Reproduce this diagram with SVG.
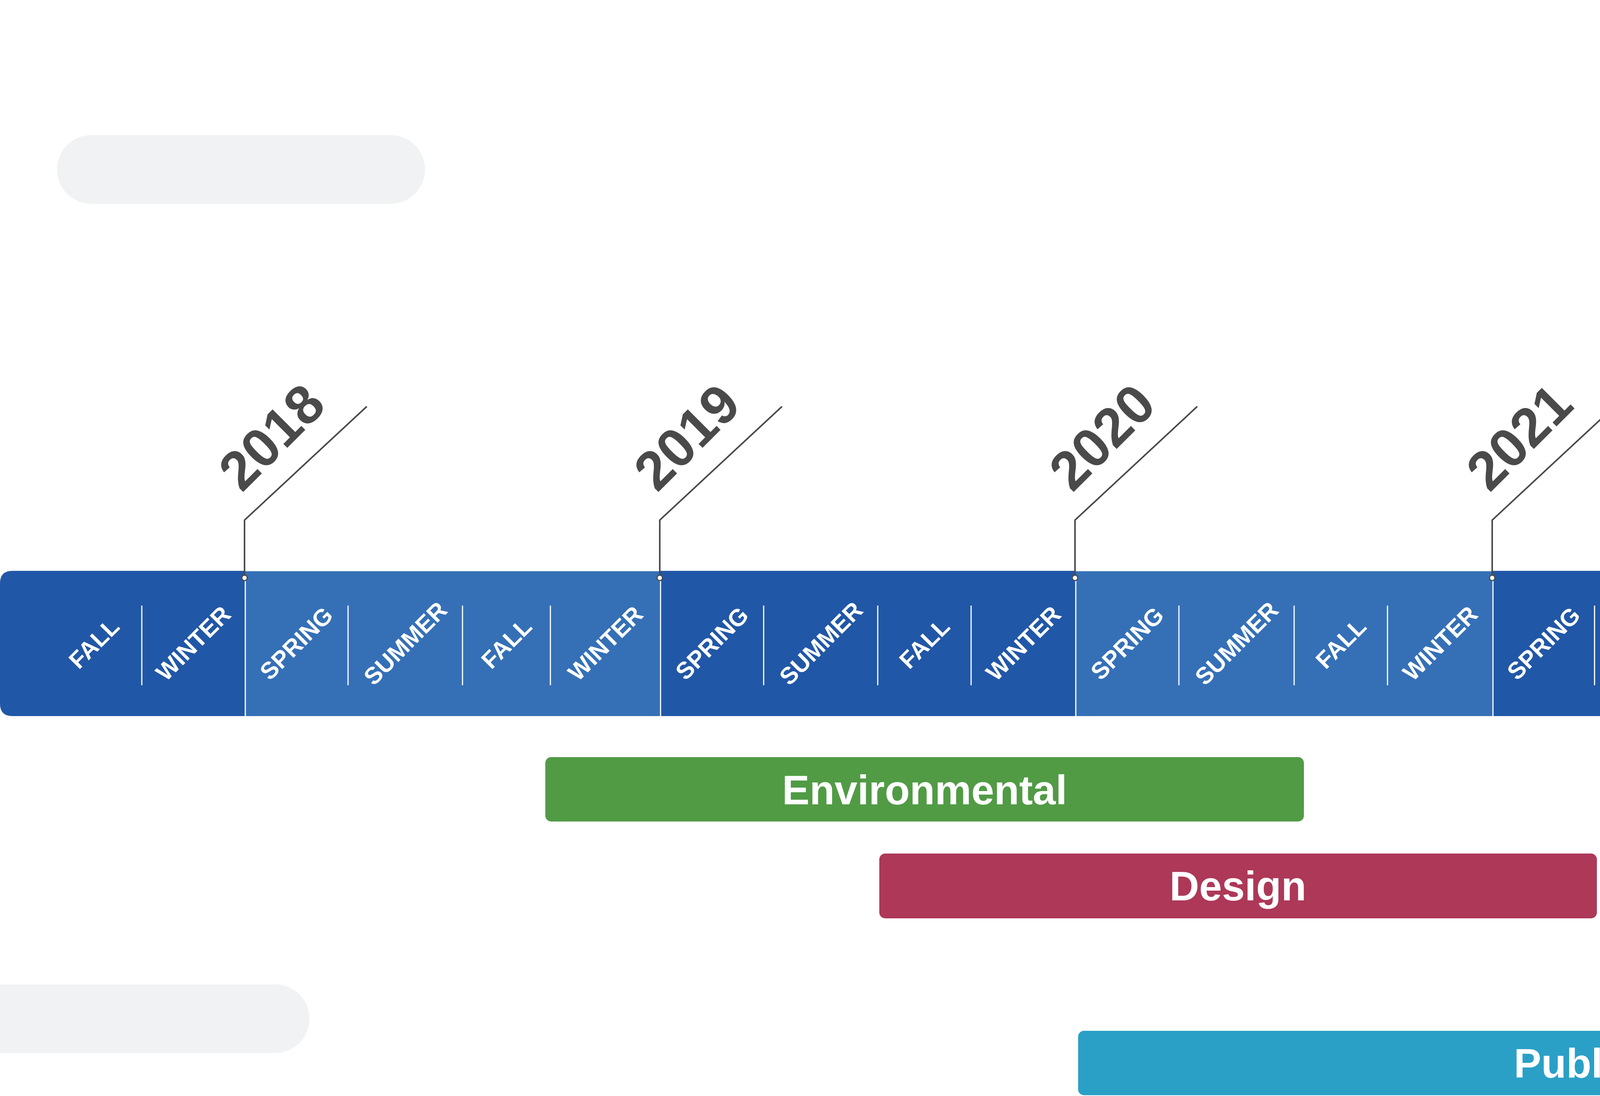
<svg xmlns="http://www.w3.org/2000/svg" width="6935" height="2807" viewBox="0 0 6935 2807">
<style>
.bg{fill:#f1f2f4}
.dark{fill:#2157a7}
.light{fill:#3570b7}
.div{stroke:#ffffff;stroke-width:3}
.lead{fill:none;stroke:#4a4a4a;stroke-width:4;stroke-linejoin:miter}
.dot{fill:#ffffff;stroke:#4a4a4a;stroke-width:3}
.yr{font-family:"Liberation Sans",Arial,sans-serif;font-weight:bold;font-size:140px;fill:#4a4a4a;text-anchor:middle}
.ss{font-family:"Liberation Sans",Arial,sans-serif;font-weight:bold;font-size:61px;fill:#ffffff;text-anchor:middle}
.bt{font-family:"Liberation Sans",Arial,sans-serif;font-weight:bold;font-size:105px;fill:#ffffff;text-anchor:middle}
</style>
<rect width="6935" height="2807" fill="#ffffff"/>
<g id="background">
<rect class="bg" x="146" y="346" width="942" height="176" rx="88"/>
<circle class="bg" cx="4962" cy="177" r="170"/>
<rect class="bg" x="5374" y="6" width="1800" height="327" rx="163"/>
<rect class="bg" x="6442" y="995" width="700" height="175" rx="87"/>
<rect class="bg" x="-300" y="2521" width="1092" height="176" rx="88"/>
</g>
<g id="timeline">
<path class="dark" d="M32,1462 H626 V1834 H32 Q0,1834 0,1802 V1494 Q0,1462 32,1462 Z"/>
<rect class="light" x="626" y="1463" width="1063" height="371"/>
<rect class="dark" x="1689" y="1462" width="1063" height="372"/>
<rect class="light" x="2752" y="1463" width="1068" height="371"/>
<rect class="dark" x="3820" y="1462" width="1059" height="372"/>
<rect class="light" x="4879" y="1463" width="1067" height="371"/>
<path class="dark" d="M5948,1469 H6629 L6935,1653 L6629,1838 H5948 Z"/>
</g>
<g id="dividers">
<line class="div" x1="363" y1="1551" x2="363" y2="1755"/>
<line class="div" x1="891" y1="1551" x2="891" y2="1755"/>
<line class="div" x1="1184" y1="1551" x2="1184" y2="1755"/>
<line class="div" x1="1409" y1="1551" x2="1409" y2="1755"/>
<line class="div" x1="1955" y1="1551" x2="1955" y2="1755"/>
<line class="div" x1="2247" y1="1551" x2="2247" y2="1755"/>
<line class="div" x1="2486" y1="1551" x2="2486" y2="1755"/>
<line class="div" x1="3018" y1="1551" x2="3018" y2="1755"/>
<line class="div" x1="3313" y1="1551" x2="3313" y2="1755"/>
<line class="div" x1="3552" y1="1551" x2="3552" y2="1755"/>
<line class="div" x1="4082" y1="1551" x2="4082" y2="1755"/>
<line class="div" x1="4376" y1="1551" x2="4376" y2="1755"/>
<line class="div" x1="4614" y1="1551" x2="4614" y2="1755"/>
<line class="div" x1="5146" y1="1551" x2="5146" y2="1755"/>
<line class="div" x1="5440" y1="1551" x2="5440" y2="1755"/>
<line class="div" x1="5677" y1="1551" x2="5677" y2="1755"/>
<line class="div" x1="6232" y1="1551" x2="6232" y2="1755"/>
<line class="div" x1="628" y1="1480" x2="628" y2="1834"/>
<line class="div" x1="1691" y1="1480" x2="1691" y2="1834"/>
<line class="div" x1="2754" y1="1480" x2="2754" y2="1834"/>
<line class="div" x1="3822" y1="1480" x2="3822" y2="1834"/>
<line class="div" x1="4881" y1="1480" x2="4881" y2="1834"/>
<line class="div" x1="5946" y1="1480" x2="5946" y2="1838"/>
</g>
<g id="seasons">
<text class="ss" transform="translate(240,1647) rotate(-45)" y="22">FALL</text>
<text class="ss" transform="translate(494,1647) rotate(-45)" y="22">WINTER</text>
<text class="ss" transform="translate(758,1647) rotate(-45)" y="22">SPRING</text>
<text class="ss" transform="translate(1037,1647) rotate(-45)" y="22">SUMMER</text>
<text class="ss" transform="translate(1296,1647) rotate(-45)" y="22">FALL</text>
<text class="ss" transform="translate(1549,1647) rotate(-45)" y="22">WINTER</text>
<text class="ss" transform="translate(1822,1647) rotate(-45)" y="22">SPRING</text>
<text class="ss" transform="translate(2101,1647) rotate(-45)" y="22">SUMMER</text>
<text class="ss" transform="translate(2366,1647) rotate(-45)" y="22">FALL</text>
<text class="ss" transform="translate(2619,1647) rotate(-45)" y="22">WINTER</text>
<text class="ss" transform="translate(2885,1647) rotate(-45)" y="22">SPRING</text>
<text class="ss" transform="translate(3165,1647) rotate(-45)" y="22">SUMMER</text>
<text class="ss" transform="translate(3432,1647) rotate(-45)" y="22">FALL</text>
<text class="ss" transform="translate(3686,1647) rotate(-45)" y="22">WINTER</text>
<text class="ss" transform="translate(3951,1647) rotate(-45)" y="22">SPRING</text>
<text class="ss" transform="translate(4229,1647) rotate(-45)" y="22">SUMMER</text>
<text class="ss" transform="translate(4495,1647) rotate(-45)" y="22">FALL</text>
<text class="ss" transform="translate(4747,1647) rotate(-45)" y="22">WINTER</text>
<text class="ss" transform="translate(5012,1647) rotate(-45)" y="22">SPRING</text>
<text class="ss" transform="translate(5293,1647) rotate(-45)" y="22">SUMMER</text>
<text class="ss" transform="translate(5558,1647) rotate(-45)" y="22">FALL</text>
<text class="ss" transform="translate(5810,1647) rotate(-45)" y="22">WINTER</text>
<text class="ss" transform="translate(6088,1647) rotate(-45)" y="22">SPRING</text>
<text class="ss" transform="translate(6386,1647) rotate(-45)" y="22">SUMMER</text>
</g>
<g id="connectors">
<path class="lead" d="M626,1480 V1332 L939,1041"/>
<path class="lead" d="M1689,1480 V1332 L2002,1041"/>
<path class="lead" d="M2752,1480 V1332 L3065,1041"/>
<path class="lead" d="M3820,1480 V1332 L4133,1041"/>
<path class="lead" d="M4879,1480 V1332 L5192,1041"/>
<path class="lead" d="M5944,1480 V1332 L6257,1041"/>
<circle class="dot" cx="626" cy="1480" r="7"/>
<circle class="dot" cx="1689" cy="1480" r="7"/>
<circle class="dot" cx="2752" cy="1480" r="7"/>
<circle class="dot" cx="3820" cy="1480" r="7"/>
<circle class="dot" cx="4879" cy="1480" r="7"/>
<circle class="dot" cx="5944" cy="1480" r="7"/>
</g>
<g id="years">
<text id="y2018" class="yr" transform="translate(694,1118) rotate(-45)" y="50">2018</text>
<text id="y2019" class="yr" transform="translate(1757,1118) rotate(-45)" y="50">2019</text>
<text id="y2020" class="yr" transform="translate(2820,1118) rotate(-45)" y="50">2020</text>
<text id="y2021" class="yr" transform="translate(3888,1118) rotate(-45)" y="50">2021</text>
<text id="y2022" class="yr" transform="translate(4947,1118) rotate(-45)" y="50">2022</text>
<text id="y2023" class="yr" transform="translate(6012,1118) rotate(-45)" y="50">2023</text>
</g>
<g id="environmental">
<rect x="1396" y="1939" width="1942" height="165" rx="15" fill="#519b45"/>
<text class="bt" x="2367" y="2060">Environmental</text>
</g>
<g id="design">
<rect x="2251" y="2186" width="1837" height="166" rx="15" fill="#ad3858"/>
<text class="bt" x="3169" y="2306">Design</text>
</g>
<g id="construction">
<rect x="4273" y="2401" width="1676" height="165" rx="15" fill="#f05a47"/>
<text class="bt" x="5111" y="2521">Construction</text>
</g>
<g id="public-involvement">
<rect x="2760" y="2640" width="3189" height="165" rx="15" fill="#2aa0c7"/>
<text class="bt" x="4354" y="2760">Public Involvement</text>
</g>
</svg>
